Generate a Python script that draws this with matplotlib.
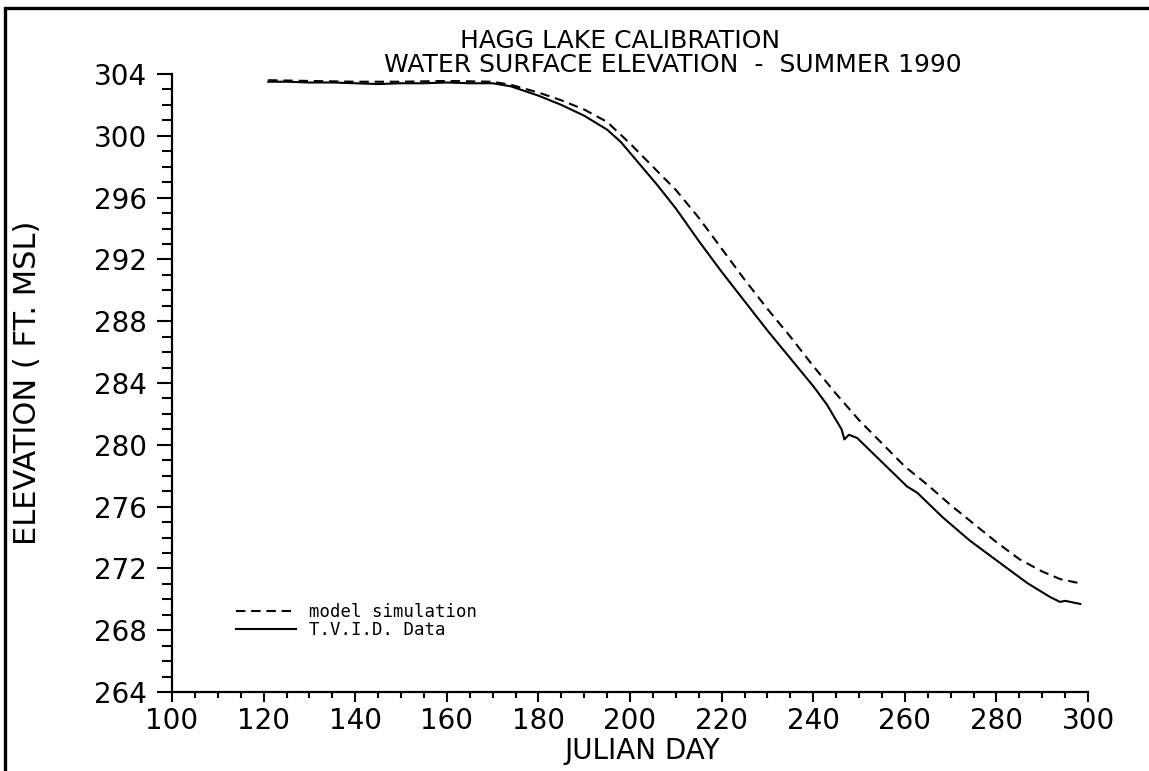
import matplotlib
matplotlib.use("Agg")
import matplotlib.pyplot as plt
from matplotlib.patches import Rectangle
from matplotlib.ticker import MultipleLocator

# Hagg Lake water surface elevation, summer 1990 (ft MSL vs Julian day)
model_day = [121, 130, 140, 150, 160, 170, 174, 180, 185, 190, 195, 200,
             205, 210, 215, 220, 225, 230, 235, 240, 245, 250, 255, 260,
             265, 270, 275, 280, 285, 290, 294, 298]
model_elev = [303.6, 303.55, 303.5, 303.5, 303.55, 303.5, 303.3, 302.8,
              302.3, 301.7, 300.9, 299.5, 298.0, 296.5, 294.7, 292.7,
              290.7, 288.8, 287.0, 285.1, 283.3, 281.6, 280.1, 278.6,
              277.4, 276.1, 274.9, 273.7, 272.6, 271.8, 271.3, 271.05]

tvid_day = [121, 125, 130, 135, 140, 145, 150, 155, 160, 165, 170, 174,
            180, 185, 190, 195, 198, 202, 206, 210, 215, 220, 225, 230,
            235, 240, 243, 246.2, 246.8, 247.8, 249.6, 254.6, 260.5,
            262.7, 268.3, 274.2, 280.8, 286.7, 291.7, 293.9, 295.0, 298.3]
tvid_elev = [303.5, 303.5, 303.45, 303.45, 303.4, 303.35, 303.4, 303.4,
             303.45, 303.4, 303.4, 303.2, 302.6, 302.0, 301.3, 300.4,
             299.6, 298.2, 296.8, 295.3, 293.2, 291.2, 289.3, 287.4,
             285.6, 283.8, 282.6, 281.0, 280.35, 280.65, 280.44,
             279.0, 277.3, 276.9, 275.3, 273.8, 272.35, 271.06, 270.15,
             269.83, 269.9, 269.7]

fig = plt.figure(figsize=(11.49, 7.71), dpi=100)
ax = fig.add_axes([172 / 1149, 79 / 771, 916 / 1149, 618 / 771])

ax.plot(model_day, model_elev, color="black", lw=1.5, ls=(0, (4.5, 2.8)),
        label="model simulation")
ax.plot(tvid_day, tvid_elev, color="black", lw=1.5, label="T.V.I.D. Data")

ax.set_xlim(100, 300)
ax.set_ylim(264, 304)
ax.xaxis.set_major_locator(MultipleLocator(20))
ax.xaxis.set_minor_locator(MultipleLocator(5))
ax.yaxis.set_major_locator(MultipleLocator(4))
ax.yaxis.set_minor_locator(MultipleLocator(1))

for s in ("top", "right"):
    ax.spines[s].set_visible(False)
for s in ("left", "bottom"):
    ax.spines[s].set_linewidth(1.6)

ax.tick_params(axis="x", which="major", direction="out", length=7.5, width=1.5,
               pad=3, labelsize=20)
ax.tick_params(axis="x", which="minor", direction="out", length=4.5, width=1.5)
ax.tick_params(axis="y", which="major", direction="out", length=11, width=1.5,
               pad=7, labelsize=20)
ax.tick_params(axis="y", which="minor", direction="out", length=7, width=1.5)

ax.set_xlabel("JULIAN DAY", fontsize=20)
ax.set_ylabel("ELEVATION ( FT. MSL)", fontsize=22)
ax.xaxis.set_label_coords((642 - 172) / 916, (692 - 737) / 618)
ax.yaxis.set_label_coords((42 - 172) / 916, 0.5)

fig.text(620 / 1149, 1 - 41 / 771, "HAGG LAKE CALIBRATION", fontsize=18,
         ha="center", va="center")
fig.text(673 / 1149, 1 - 65 / 771, "WATER SURFACE ELEVATION  -  SUMMER 1990",
         fontsize=18, ha="center", va="center")

leg = ax.legend(loc="upper left", bbox_to_anchor=(227 / 1149, 1 - 594 / 771),
                bbox_transform=fig.transFigure, frameon=False,
                prop={"family": "DejaVu Sans Mono", "size": 12.5},
                handlelength=3.5, handletextpad=0.7, labelspacing=0.0,
                borderpad=0)

# page border from the scanned sheet
fig.patches.append(Rectangle((5 / 1149, -0.1), 1.2, 1 - 8 / 771 + 0.1,
                             transform=fig.transFigure, fill=False,
                             edgecolor="black", lw=2.4))

fig.savefig("out.png", dpi=100)
